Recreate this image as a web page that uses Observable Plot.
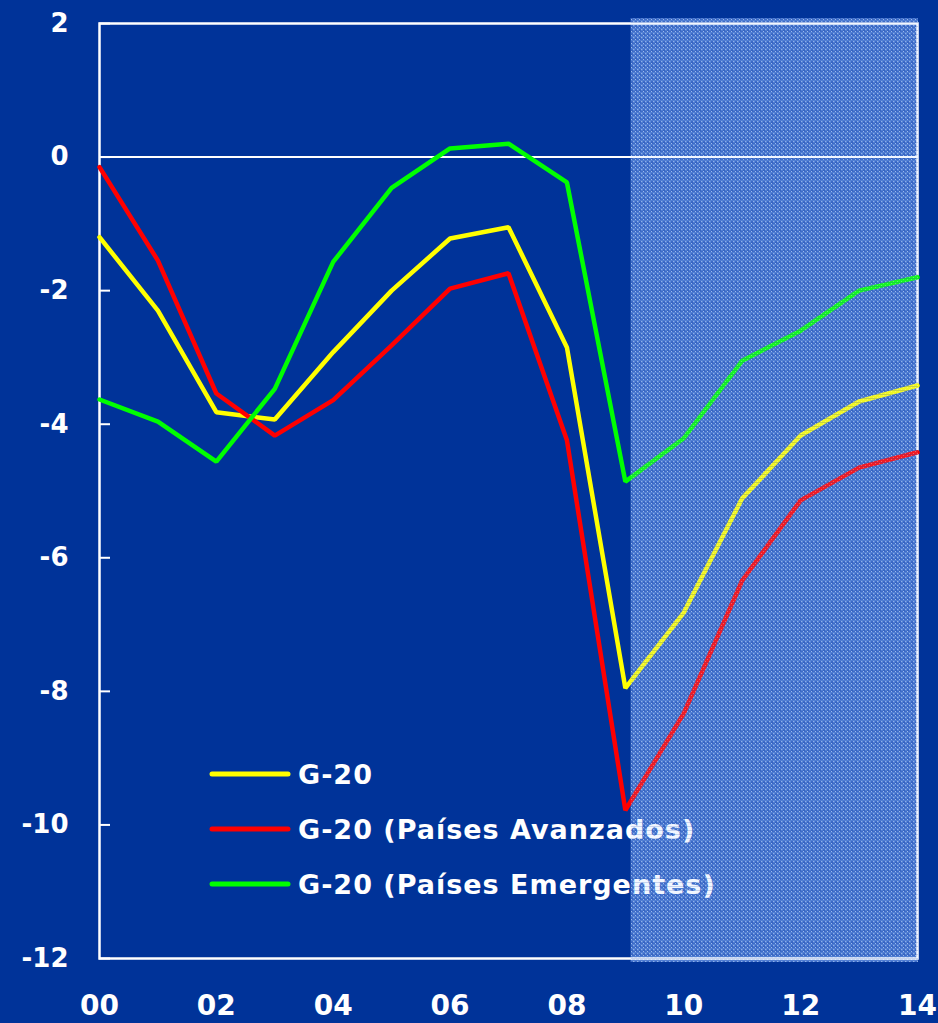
<!DOCTYPE html>
<html>
<head>
<meta charset="utf-8">
<script src="https://cdn.jsdelivr.net/npm/d3@7"></script>
<script src="https://cdn.jsdelivr.net/npm/@observablehq/plot@0.6"></script>
<style>
  html, body { margin: 0; padding: 0; background: #003399; }
  #chart svg { display: block; }
</style>
</head>
<body>
<div id="chart"></div>
<script>
// ---- Data ----
const years = [0, 1, 2, 3, 4, 5, 6, 7, 8, 9, 10, 11, 12, 13, 14];
const g20 = [-1.2, -2.3, -3.82, -3.93, -2.92, -2.0, -1.22, -1.05, -2.85, -7.95, -6.82, -5.11, -4.17, -3.66, -3.42];
const g20Avanzados = [-0.15, -1.55, -3.54, -4.17, -3.64, -2.82, -1.97, -1.74, -4.24, -9.78, -8.33, -6.34, -5.14, -4.65, -4.42];
const g20Emergentes = [-3.63, -3.96, -4.56, -3.47, -1.57, -0.46, 0.13, 0.2, -0.38, -4.86, -4.21, -3.05, -2.6, -2.0, -1.8];
const seriesNames = ["G-20", "G-20 (Países Avanzados)", "G-20 (Países Emergentes)"];
const seriesColors = ["#ffff00", "#ff0000", "#00ff00"];
const yTicks = [-12, -10, -8, -6, -4, -2, 0, 2];
const xTicks = [0, 2, 4, 6, 8, 10, 12, 14];
const xTickLabels = ["00", "02", "04", "06", "08", "10", "12", "14"];
const forecastStart = [9.1];
const forecastEnd = [14];

const seriesValues = [g20, g20Avanzados, g20Emergentes];
const rows = [];
seriesNames.forEach((s, j) => years.forEach((yr, i) => rows.push({year: yr, value: seriesValues[j][i], series: s})));
const shade = [{x1: forecastStart[0], x2: forecastEnd[0], y1: yTicks[0], y2: yTicks[yTicks.length - 1]}];

const FONT = "'DejaVu Sans', Verdana, sans-serif";

const chart = Plot.plot({
  width: 938,
  height: 1023,
  marginTop: 23,
  marginRight: 21,
  marginBottom: 65,
  marginLeft: 99,
  style: {background: "#003399", color: "white", fontFamily: FONT, overflow: "visible"},
  x: {domain: [0, 14]},
  y: {domain: [-12, 2]},
  color: {domain: seriesNames, range: seriesColors},
  marks: [
    Plot.rect(shade, {x1: "x1", x2: "x2", y1: "y1", y2: "y2", fill: "url(#shadeBase)", insetTop: -5, insetBottom: -4, insetRight: -1}),
    Plot.frame({stroke: "white", strokeWidth: 2.5}),
    Plot.ruleY([0], {stroke: "white", strokeWidth: 2}),
    Plot.ruleY(yTicks, {y: d => d, x1: 0, x2: 0, insetRight: -11, stroke: "white", strokeWidth: 2}),
    Plot.axisY(yTicks, {tickSize: 0, tickPadding: 31, fontSize: 26, fontWeight: "bold", fill: "white", tickFormat: d => String(d), label: null}),
    Plot.axisX(xTicks, {tickSize: 0, tickPadding: 37, fontSize: 28, fontWeight: "bold", fill: "white", tickFormat: (d, i) => xTickLabels[i], label: null}),
    Plot.line(rows, {x: "year", y: "value", z: "series", stroke: "series", strokeWidth: 4.5, strokeLinejoin: "miter"}),
    Plot.rect(shade, {x1: "x1", x2: "x2", y1: "y1", y2: "y2", fill: "url(#shadeTop)", insetTop: -5, insetBottom: -4, insetRight: -1})
  ]
});

document.getElementById("chart").appendChild(chart);

const svgSel = d3.select(chart);
const defs = svgSel.insert("defs", ":first-child");
// base texture (under lines)
const basePat = defs.append("pattern")
  .attr("id", "shadeBase").attr("patternUnits", "userSpaceOnUse")
  .attr("width", 4).attr("height", 4);
basePat.append("rect").attr("width", 4).attr("height", 4).attr("fill", "#2d5dbf");
basePat.append("rect").attr("x", 1).attr("y", 1).attr("width", 2).attr("height", 2).attr("fill", "#5585d6");
basePat.append("rect").attr("x", 0).attr("y", 0).attr("width", 4).attr("height", 1).attr("fill", "#4575cc");
basePat.append("rect").attr("x", 3).attr("y", 3).attr("width", 1).attr("height", 1).attr("fill", "#6b98e0");
// light overlay texture (over lines and legend)
const overPat = defs.append("pattern")
  .attr("id", "shadeTop").attr("patternUnits", "userSpaceOnUse")
  .attr("width", 4).attr("height", 4);
overPat.append("rect").attr("width", 4).attr("height", 4).attr("fill", "#9fbfff").attr("fill-opacity", 0.14);
overPat.append("rect").attr("x", 1).attr("y", 1).attr("width", 1).attr("height", 1).attr("fill", "#ffffff").attr("fill-opacity", 0.3);
overPat.append("rect").attr("x", 3).attr("y", 3).attr("width", 1).attr("height", 1).attr("fill", "#ffffff").attr("fill-opacity", 0.3);
overPat.append("rect").attr("x", 0).attr("y", 2).attr("width", 4).attr("height", 1).attr("fill", "#1a48a8").attr("fill-opacity", 0.2);

// legend
const leg = svgSel.append("g").attr("class", "legend").attr("text-anchor", "start");
seriesNames.forEach((name, i) => {
  const gy = 774 + 55 * i;
  leg.append("line")
    .attr("x1", 212).attr("x2", 288).attr("y1", gy).attr("y2", gy)
    .attr("stroke", seriesColors[i]).attr("stroke-width", 5).attr("stroke-linecap", "round");
  leg.append("text")
    .attr("x", 298).attr("y", gy)
    .attr("dy", "0.36em")
    .attr("text-anchor", "start")
    .attr("fill", "white")
    .attr("font-family", FONT)
    .attr("font-weight", "bold")
    .attr("font-size", 27)
    .attr("letter-spacing", "1px")
    .text(name);
});

// overlay texture sits on top of everything
const rectGroups = svgSel.selectAll('g[aria-label="rect"]').nodes();
d3.select(rectGroups[rectGroups.length - 1]).raise();
</script>
</body>
</html>
